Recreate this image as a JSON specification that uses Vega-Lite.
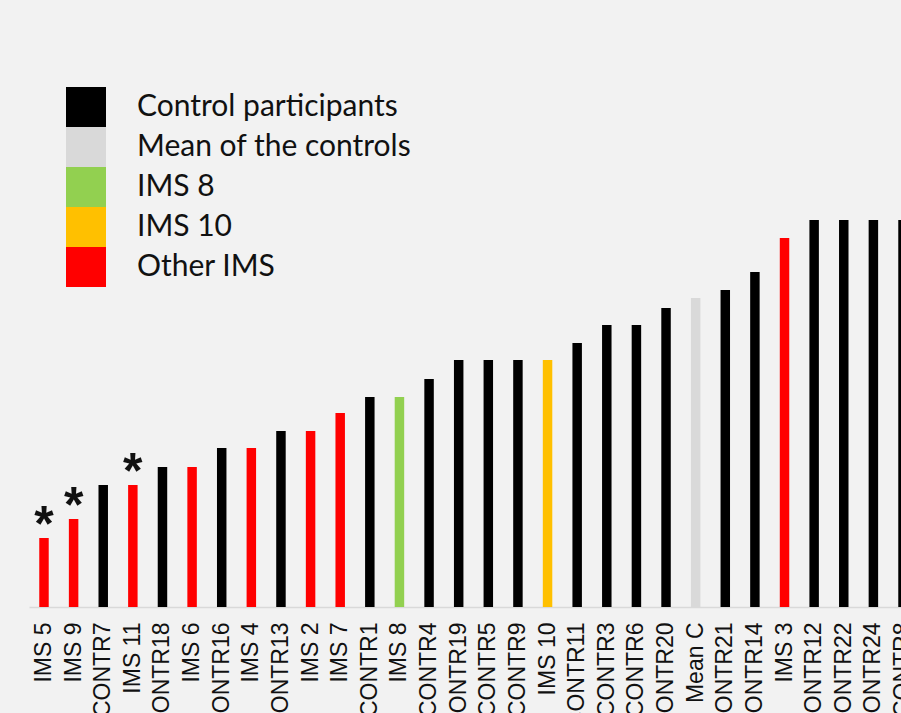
{
  "$schema": "https://vega.github.io/schema/vega-lite/v6.json",
  "width": 872,
  "height": 607,
  "autosize": {"type": "none"},
  "padding": {"left": 29, "top": 0, "right": 0, "bottom": 106},
  "background": "#f2f2f2",
  "config": {"view": {"stroke": null}},
  "data": {
    "values": [
      {"name": "IMS 5", "value": 3.98, "group": "Other IMS", "star": "*"},
      {"name": "IMS 9", "value": 5.07, "group": "Other IMS", "star": "*"},
      {"name": "CONTR7", "value": 7.03, "group": "Control participants", "star": ""},
      {"name": "IMS 11", "value": 7.03, "group": "Other IMS", "star": "*"},
      {"name": "CONTR18", "value": 8.07, "group": "Control participants", "star": ""},
      {"name": "IMS 6", "value": 8.07, "group": "Other IMS", "star": ""},
      {"name": "CONTR16", "value": 9.17, "group": "Control participants", "star": ""},
      {"name": "IMS 4", "value": 9.17, "group": "Other IMS", "star": ""},
      {"name": "CONTR13", "value": 10.15, "group": "Control participants", "star": ""},
      {"name": "IMS 2", "value": 10.15, "group": "Other IMS", "star": ""},
      {"name": "IMS 7", "value": 11.19, "group": "Other IMS", "star": ""},
      {"name": "CONTR1", "value": 12.11, "group": "Control participants", "star": ""},
      {"name": "IMS 8", "value": 12.11, "group": "IMS 8", "star": ""},
      {"name": "CONTR4", "value": 13.15, "group": "Control participants", "star": ""},
      {"name": "CONTR19", "value": 14.24, "group": "Control participants", "star": ""},
      {"name": "CONTR5", "value": 14.24, "group": "Control participants", "star": ""},
      {"name": "CONTR9", "value": 14.24, "group": "Control participants", "star": ""},
      {"name": "IMS 10", "value": 14.24, "group": "IMS 10", "star": ""},
      {"name": "CONTR11", "value": 15.22, "group": "Control participants", "star": ""},
      {"name": "CONTR3", "value": 16.26, "group": "Control participants", "star": ""},
      {"name": "CONTR6", "value": 16.26, "group": "Control participants", "star": ""},
      {"name": "CONTR20", "value": 17.24, "group": "Control participants", "star": ""},
      {"name": "Mean C", "value": 17.82, "group": "Mean of the controls", "star": ""},
      {"name": "CONTR21", "value": 18.28, "group": "Control participants", "star": ""},
      {"name": "CONTR14", "value": 19.32, "group": "Control participants", "star": ""},
      {"name": "IMS 3", "value": 21.28, "group": "Other IMS", "star": ""},
      {"name": "CONTR12", "value": 22.31, "group": "Control participants", "star": ""},
      {"name": "CONTR22", "value": 22.31, "group": "Control participants", "star": ""},
      {"name": "CONTR24", "value": 22.31, "group": "Control participants", "star": ""},
      {"name": "CONTR8", "value": 22.31, "group": "Control participants", "star": ""}
    ]
  },
  "encoding": {
    "x": {
      "field": "name",
      "type": "nominal",
      "sort": null,
      "title": null,
      "scale": {"range": [0, 889], "paddingInner": 0.68, "paddingOuter": 0.346},
      "axis": {
        "labelAngle": -90,
        "labelFont": "Liberation Sans",
        "labelFontSize": 23,
        "labelColor": "#111111",
        "labelPadding": 15,
        "ticks": false,
        "domainColor": "#d9d9d9",
        "domainWidth": 1.5,
        "labelOverlap": false,
        "labelLimit": 200
      }
    },
    "y": {
      "field": "value",
      "type": "quantitative",
      "scale": {"domain": [0, 35], "nice": false},
      "axis": null
    }
  },
  "layer": [
    {
      "mark": {"type": "bar"},
      "encoding": {
        "color": {
          "field": "group",
          "type": "nominal",
          "scale": {
            "domain": ["Control participants", "Mean of the controls", "IMS 8", "IMS 10", "Other IMS"],
            "range": ["#000000", "#d9d9d9", "#92d050", "#ffc000", "#ff0000"]
          },
          "legend": {
            "title": null,
            "orient": "none",
            "legendX": 37,
            "legendY": 87,
            "symbolType": "square",
            "symbolSize": 1600,
            "symbolStrokeWidth": 0,
            "symbolOpacity": 1,
            "rowPadding": 0,
            "padding": 0,
            "labelFont": "Lato",
            "labelFontSize": 30,
            "labelColor": "#111111",
            "labelOffset": 31,
            "labelLimit": 400
          }
        }
      }
    },
    {
      "transform": [{"filter": "datum.star == '*'"}],
      "mark": {"type": "text", "font": "Liberation Sans", "fontSize": 50, "fontWeight": "bold", "baseline": "alphabetic", "dy": 3, "color": "#111111"},
      "encoding": {"text": {"field": "star"}}
    }
  ]
}
